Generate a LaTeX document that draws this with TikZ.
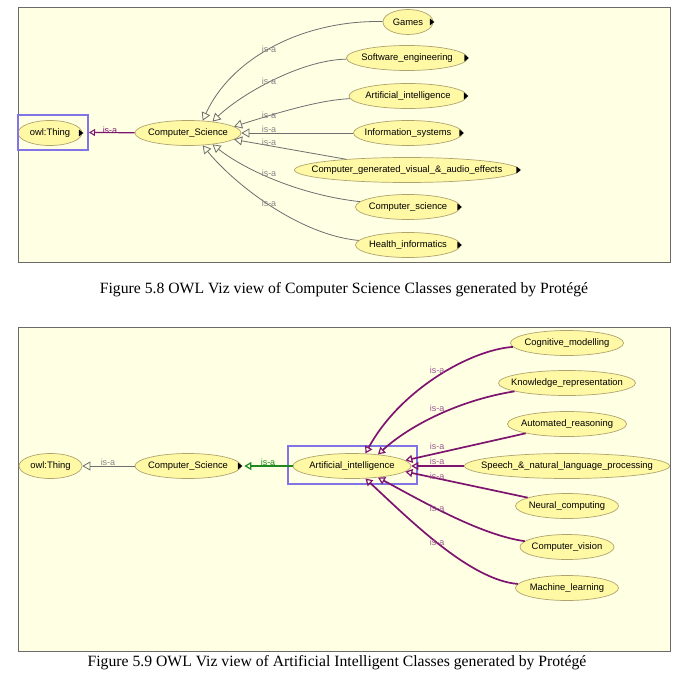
\documentclass[tikz,border=0pt]{standalone}
\usepackage{fontspec}
\setmainfont{Liberation Serif}
\setsansfont{Liberation Sans}
\usetikzlibrary{arrows.meta,shapes.geometric}
\definecolor{panelbg}{HTML}{FFFFE4}
\definecolor{nodefill}{HTML}{FFF9A6}
\definecolor{nodeline}{HTML}{B0A46E}
\definecolor{edgegray}{HTML}{6E6E6E}
\definecolor{lblgray}{HTML}{858585}
\definecolor{isapurple}{HTML}{7D1470}
\definecolor{lblpurple}{HTML}{9A5A90}
\definecolor{isagreen}{HTML}{1E8A1E}
\definecolor{selblue}{HTML}{8074E6}
\definecolor{framegray}{HTML}{6A6A6A}
\tikzset{
  cls/.style={ellipse, draw=nodeline, fill=nodefill, line width=0.7pt, inner sep=0pt,
    minimum height=25pt, font=\sffamily\fontsize{9.4}{11}\selectfont, text=black},
  panel/.style={draw=framegray, fill=panelbg, line width=0.8pt},
  selbox/.style={draw=selblue, line width=2pt, inner sep=0pt},
  isagray/.style={draw=edgegray, line width=0.8pt, -{Triangle[open,length=8pt,width=9pt,line width=0.8pt]}},
  isapurp/.style={draw=isapurple, line width=1.7pt, -{Triangle[open,length=7pt,width=8pt,line width=1.2pt]}},
  isapurpthin/.style={draw=isapurple, line width=1.2pt, -{Triangle[open,length=6pt,width=7pt,line width=1pt]}},
  isagr/.style={draw=isagreen, line width=1.7pt, -{Triangle[open,length=7pt,width=8pt,line width=1.2pt]}},
  lbl/.style={font=\sffamily\fontsize{9}{10}\selectfont, inner sep=0pt},
  caption/.style={font=\fontsize{15.7}{18}\selectfont, inner sep=0pt}
}
\newcommand{\cl}[1]{\makebox[0pt]{#1}}
\newcommand{\expmark}[1]{\fill[black] (#1.east) ++(-3.5,-3.5) -- ++(0,7) -- ++(4.5,-3.5) -- cycle;}
\begin{document}
\begin{tikzpicture}[x=1pt,y=-1pt]
\useasboundingbox[fill=white] (0,0) rectangle (692,682);
% ---------------- top panel ----------------
\draw[panel] (18,7) rectangle (670,262);
\node[cls, minimum width=64pt] (thA) at (50,133) {\cl{owl:Thing}};
\node[selbox, minimum width=70pt, minimum height=35pt] (boxA) at (53,132.5) {};
\node[cls, minimum width=106pt] (csA) at (188,133) {\cl{Computer\_Science}};
\node[cls, minimum width=50pt] (games) at (408,22) {\cl{Games}};
\node[cls, minimum width=121pt] (se) at (407,58) {\cl{Software\_engineering}};
\node[cls, minimum width=118pt] (aiA) at (408,96) {\cl{Artificial\_intelligence}};
\node[cls, minimum width=109pt] (is) at (408,133) {\cl{Information\_systems}};
\node[cls, minimum width=225pt] (cgv) at (407,170) {\cl{Computer\_generated\_visual\_\&\_audio\_effects}};
\node[cls, minimum width=105pt] (csci) at (408,207) {\cl{Computer\_science}};
\node[cls, minimum width=105pt] (hi) at (408,245) {\cl{Health\_informatics}};
\expmark{games}\expmark{se}\expmark{aiA}\expmark{is}\expmark{cgv}\expmark{csci}\expmark{hi}
\draw[isapurpthin] (csA) -- (boxA.east);
\expmark{thA}
\node[lbl, text=isapurple] (lA0) at (110,130) {is-a};
\draw[isagray] (games) .. controls (300,20) and (230,60) .. (csA.40);
\draw[isagray] (se) .. controls (300,60) and (240,95) .. (csA.25);
\draw[isagray] (aiA) .. controls (320,100) and (280,112) .. (csA.8);
\draw[isagray] (is) -- (csA);
\draw[isagray] (cgv) -- (csA.-8);
\draw[isagray] (csci) .. controls (300,195) and (245,170) .. (csA.-25);
\draw[isagray] (hi) .. controls (300,235) and (235,185) .. (csA.-40);
\node[lbl, text=lblgray] (lA1) at (269,49) {is-a};
\node[lbl, text=lblgray] (lA2) at (269,81) {is-a};
\node[lbl, text=lblgray] (lA3) at (269,115) {is-a};
\node[lbl, text=lblgray] (lA4) at (269,129) {is-a};
\node[lbl, text=lblgray] (lA5) at (269,142) {is-a};
\node[lbl, text=lblgray] (lA6) at (269,173) {is-a};
\node[lbl, text=lblgray] (lA7) at (269,203) {is-a};
\node[caption] (capA) at (344,290) {Figure 5.8 OWL Viz view of Computer Science Classes generated by Protégé};
% ---------------- bottom panel ----------------
\draw[panel] (18,327) rectangle (670,651);
\node[cls, minimum width=63pt] (thB) at (50.5,466) {\cl{owl:Thing}};
\node[cls, minimum width=106pt] (csB) at (188,466) {\cl{Computer\_Science}};
\node[cls, minimum width=118pt] (aiB) at (352,466) {\cl{Artificial\_intelligence}};
\node[selbox, minimum width=129pt, minimum height=38pt] (boxB) at (352.5,465) {};
\node[cls, minimum width=113pt] (cm) at (567,343) {\cl{Cognitive\_modelling}};
\node[cls, minimum width=137pt] (kr) at (567,383) {\cl{Knowledge\_representation}};
\node[cls, minimum width=119pt] (ar) at (567,424) {\cl{Automated\_reasoning}};
\node[cls, minimum width=205pt] (snlp) at (567,466) {\cl{Speech\_\&\_natural\_language\_processing}};
\node[cls, minimum width=103pt] (nc) at (567,506) {\cl{Neural\_computing}};
\node[cls, minimum width=94pt] (cv) at (567,547) {\cl{Computer\_vision}};
\node[cls, minimum width=103pt] (ml) at (567,588) {\cl{Machine\_learning}};
\draw[isagray] (csB) -- (thB);
\node[lbl, text=lblgray] (lB0) at (108,462) {is-a};
\draw[isagr] (aiB) -- ([xshift=3pt]csB.east);
\expmark{csB}
\node[lbl, text=isagreen] (lB1) at (268,462) {is-a};
\draw[isapurp] (cm) .. controls (470,350) and (400,390) .. (aiB.43);
\draw[isapurp] (kr) .. controls (460,400) and (410,425) .. (aiB.24);
\draw[isapurp] (ar) -- (aiB.6);
\draw[isapurp] (snlp) -- (aiB);
\draw[isapurp] (nc) -- (aiB.-6);
\draw[isapurp] (cv) .. controls (480,535) and (420,500) .. (aiB.-24);
\draw[isapurp] (ml) .. controls (470,580) and (410,520) .. (aiB.-43);
\node[lbl, text=lblpurple] (lB2) at (437,370) {is-a};
\node[lbl, text=lblpurple] (lB3) at (437,408) {is-a};
\node[lbl, text=lblpurple] (lB4) at (437,446) {is-a};
\node[lbl, text=lblpurple] (lB5) at (437,461) {is-a};
\node[lbl, text=lblpurple] (lB6) at (437,476) {is-a};
\node[lbl, text=lblpurple] (lB7) at (437,508) {is-a};
\node[lbl, text=lblpurple] (lB8) at (437,542) {is-a};
\node[caption] (capB) at (337,663) {Figure 5.9 OWL Viz view of Artificial Intelligent Classes generated by Protégé};
\end{tikzpicture}
\end{document}
